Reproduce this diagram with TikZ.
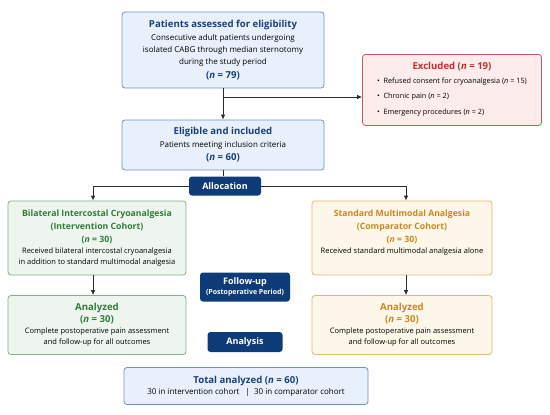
\documentclass[tikz,border=0pt]{standalone}
\usepackage{fontspec}
\setmainfont{Open Sans}
\usetikzlibrary{arrows.meta}

\definecolor{titleblue}{HTML}{1B3F7A}
\definecolor{lineblue}{HTML}{7092C2}
\definecolor{fillblue}{HTML}{E8F1FB}
\definecolor{titlered}{HTML}{C0302B}
\definecolor{linered}{HTML}{C9595A}
\definecolor{fillred}{HTML}{FDECEC}
\definecolor{titlegreen}{HTML}{2F7D3A}
\definecolor{linegreen}{HTML}{86AE8A}
\definecolor{fillgreen}{HTML}{EEF5EE}
\definecolor{titleorange}{HTML}{C8891C}
\definecolor{lineorange}{HTML}{E2B86B}
\definecolor{fillorange}{HTML}{FDF7EA}
\definecolor{navy}{HTML}{0D3C78}
\definecolor{linkgray}{HTML}{2B2B2B}

\newcommand{\boxtitle}{\fontsize{9.6}{12}\selectfont\bfseries}
\newcommand{\cohorttitle}{\fontsize{8.7}{12}\selectfont\bfseries}

\begin{document}
\begin{tikzpicture}[x=1pt, y=-1pt,
    box/.style={rounded corners=3pt, line width=0.8pt, align=center, inner sep=0pt,
        font=\fontsize{8}{12}\selectfont},
    bluebox/.style={box, draw=lineblue, fill=fillblue},
    redbox/.style={box, draw=linered, fill=fillred},
    greenbox/.style={box, draw=linegreen, fill=fillgreen, font=\fontsize{7.5}{12}\selectfont},
    orangebox/.style={box, draw=lineorange, fill=fillorange, font=\fontsize{7.5}{12}\selectfont},
    stagebox/.style={rounded corners=3pt, fill=navy, text=white, align=center, inner sep=0pt,
        font=\fontsize{9}{11}\selectfont\bfseries},
    link/.style={line width=0.8pt, draw=linkgray},
    arrow/.style={link, -{Latex[length=5pt,width=4.5pt]}}
]

    % Fix the picture size to the reference
    \useasboundingbox[fill=white] (0,0) rectangle (550,415);

    % Screening and exclusion
    \node[bluebox, minimum width=202pt, minimum height=76pt] (assessed) at (223,50)
        {{\boxtitle\color{titleblue}Patients assessed for eligibility}\\[1pt]
         Consecutive adult patients undergoing\\
         isolated CABG through median sternotomy\\
         during the study period\\[2pt]
         {\fontsize{9.6}{12}\selectfont\bfseries\color{titleblue}(\textit{n} = 79)}};

    \node[redbox, minimum width=179pt, minimum height=71pt] (excluded) at (452,90)
        {{\boxtitle\color{titlered}Excluded (\textit{n} = 19)}\\[2pt]
         \fontsize{7.3}{13}\selectfont
         \begin{tabular}{@{}l@{}}
         •\enspace Refused consent for cryoanalgesia (\textit{n} = 15)\\[2.5pt]
         •\enspace Chronic pain (\textit{n} = 2)\\[2.5pt]
         •\enspace Emergency procedures (\textit{n} = 2)
         \end{tabular}};

    \node[bluebox, minimum width=202pt, minimum height=50pt] (eligible) at (223,145)
        {{\boxtitle\color{titleblue}Eligible and included}\\[1pt]
         Patients meeting inclusion criteria\\[1pt]
         {\fontsize{9.6}{12}\selectfont\bfseries\color{titleblue}(\textit{n} = 60)}};

    % Stage labels
    \node[stagebox, minimum width=72pt, minimum height=19pt] (allocation) at (225,186) {Allocation};
    \node[stagebox, minimum width=90pt, minimum height=29pt] (followup) at (245,287)
        {Follow-up\\[-1pt]{\fontsize{7}{8}\selectfont (Postoperative Period)}};
    \node[stagebox, minimum width=75pt, minimum height=20pt] (analysis) at (245,342) {Analysis};

    % Two cohorts
    \node[greenbox, minimum width=178pt, minimum height=74pt] (cryo) at (97,238)
        {{\cohorttitle\color{titlegreen}Bilateral Intercostal Cryoanalgesia}\\[1pt]
         {\cohorttitle\color{titlegreen}(Intervention Cohort)}\\[1pt]
         {\cohorttitle\color{titlegreen}(\textit{n} = 30)}\\[-1pt]
         Received bilateral intercostal cryoanalgesia\\[-1.5pt]
         in addition to standard multimodal analgesia};

    \node[orangebox, minimum width=180pt, minimum height=74pt] (standard) at (402,238)
        {{\cohorttitle\color{titleorange}Standard Multimodal Analgesia}\\[1pt]
         {\cohorttitle\color{titleorange}(Comparator Cohort)}\\[1pt]
         {\cohorttitle\color{titleorange}(\textit{n} = 30)}\\[-1pt]
         Received standard multimodal analgesia alone\\
         \mbox{}};

    % Analyzed boxes
    \node[greenbox, minimum width=178pt, minimum height=59pt] (cryodone) at (97,325)
        {{\boxtitle\color{titlegreen}Analyzed}\\[0pt]
         {\boxtitle\color{titlegreen}(\textit{n} = 30)}\\[-1pt]
         Complete postoperative pain assessment\\[-1.5pt]
         and follow-up for all outcomes};

    \node[orangebox, minimum width=180pt, minimum height=59pt] (standarddone) at (402,325)
        {{\boxtitle\color{titleorange}Analyzed}\\[0pt]
         {\boxtitle\color{titleorange}(\textit{n} = 30)}\\[-1pt]
         Complete postoperative pain assessment\\[-1.5pt]
         and follow-up for all outcomes};

    % Total
    \node[bluebox, minimum width=244pt, minimum height=37pt] (total) at (246,386)
        {{\boxtitle\color{titleblue}Total analyzed (\textit{n} = 60)}\\[-1pt]
         30 in intervention cohort \enspace|\enspace 30 in comparator cohort};

    % Connectors
    \coordinate (split) at (223,97);
    \draw[arrow] (assessed.south) -- (eligible.north);
    \draw[arrow] (split) -- (split -| excluded.west);
    \draw[link] (eligible.south) -- (eligible.south |- allocation.north);
    \draw[arrow] (allocation.west) -| ([xshift=-4pt]cryo.north);
    \draw[arrow] (allocation.east) -| ([xshift=4pt]standard.north);
    \draw[arrow] ([xshift=-4pt]cryo.south) -- ([xshift=-4pt]cryodone.north);
    \draw[arrow] ([xshift=4pt]standard.south) -- ([xshift=4pt]standarddone.north);

\end{tikzpicture}
\end{document}
